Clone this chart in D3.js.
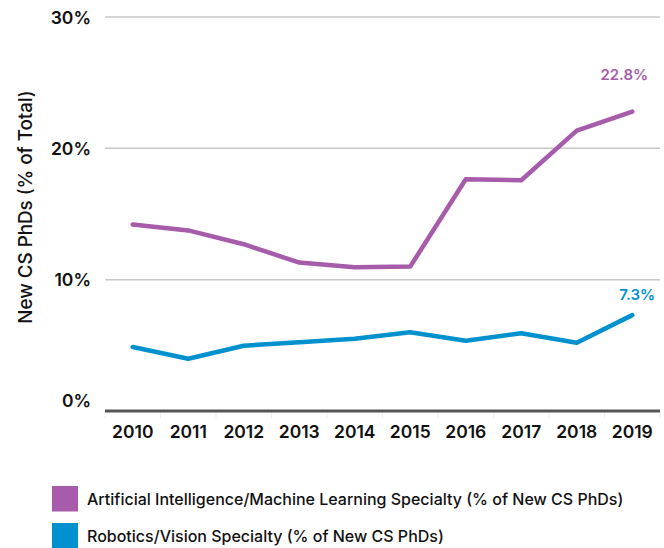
<!DOCTYPE html>
<html>
<head>
<meta charset="utf-8">
<script src="https://cdn.jsdelivr.net/npm/d3@7"></script>
<style>
  body { margin: 0; background: #fff; }
  svg text { font-family: "Inter", "Roboto", sans-serif; }
</style>
</head>
<body>
<script>
// chart data
const years = ["2010", "2011", "2012", "2013", "2014", "2015", "2016", "2017", "2018", "2019"];
const aiMl = [14.2, 13.75, 12.7, 11.3, 10.95, 11.0, 17.65, 17.57, 21.35, 22.8];
const roboticsVision = [4.87, 3.98, 4.97, 5.23, 5.5, 6.0, 5.35, 5.92, 5.2, 7.3];
const yTicks = [0, 10, 20, 30];
const seriesNames = [
  "Artificial Intelligence/Machine Learning Specialty (% of New CS PhDs)",
  "Robotics/Vision Specialty (% of New CS PhDs)"
];
const colors = ["#a65caa", "#0091ce"];

const width = 664, height = 548;
const plotLeft = 105, plotRight = 660, plotTop = 17, plotBottom = 411;

const svg = d3.select('body').append('svg')
  .attr('width', width)
  .attr('height', height);

const x = d3.scaleBand().domain(years).range([plotLeft, plotRight]);
const y = d3.scaleLinear().domain([0, 30]).range([plotBottom, plotTop]);

// gridlines
svg.append('g')
  .selectAll('line')
  .data(yTicks.filter(d => d > 0))
  .enter()
  .append('line')
  .attr('x1', plotLeft)
  .attr('x2', plotRight)
  .attr('y1', d => y(d))
  .attr('y2', d => y(d))
  .attr('stroke', '#c8c8c8')
  .attr('stroke-width', 1.5);

// y tick labels (the 0% one sits above the axis line)
svg.append('g')
  .selectAll('text')
  .data(yTicks)
  .enter()
  .append('text')
  .attr('x', 91)
  .attr('y', d => d === 0 ? y(d) - 4 : y(d) + 6.5)
  .attr('text-anchor', 'end')
  .attr('font-size', 17.5)
  .attr('font-weight', 600)
  .attr('fill', '#111')
  .text(d => d + '%');

// x axis
const xAxis = svg.append('g')
  .attr('transform', `translate(0,${plotBottom})`)
  .call(d3.axisBottom(x).tickSize(0).tickPadding(15));
xAxis.select('.domain').remove();
xAxis.selectAll('text')
  .attr('font-size', 17.5)
  .attr('font-weight', 600)
  .attr('fill', '#111')
  .style('font-family', '"Inter", "Roboto", sans-serif');

// faint band separators
svg.append('g')
  .selectAll('line')
  .data(years.concat(['end']))
  .enter()
  .append('line')
  .attr('x1', (d, i) => plotLeft + i * x.step())
  .attr('x2', (d, i) => plotLeft + i * x.step())
  .attr('y1', plotBottom)
  .attr('y2', plotBottom + 7)
  .attr('stroke', '#eee')
  .attr('stroke-width', 1);

svg.append('line')
  .attr('x1', plotLeft)
  .attr('x2', plotRight)
  .attr('y1', plotBottom)
  .attr('y2', plotBottom)
  .attr('stroke', '#555')
  .attr('stroke-width', 3);

// y axis title
svg.append('text')
  .attr('transform', `translate(32,207) rotate(-90)`)
  .attr('text-anchor', 'middle')
  .attr('font-size', 18.8)
  .attr('font-weight', 500)
  .attr('fill', '#111')
  .text('New CS PhDs (% of Total)');

// lines
const line = d3.line()
  .x((d, i) => x(years[i]) + x.bandwidth() / 2)
  .y(d => y(d));

[aiMl, roboticsVision].forEach((vals, k) => {
  svg.append('path')
    .datum(vals)
    .attr('d', line)
    .attr('fill', 'none')
    .attr('stroke', colors[k])
    .attr('stroke-width', 4.5)
    .attr('stroke-linejoin', 'round')
    .attr('stroke-linecap', 'round');
});

// end labels
const lastX = x(years[years.length - 1]) + x.bandwidth() / 2;
svg.append('text')
  .attr('x', lastX - 8)
  .attr('y', y(aiMl[aiMl.length - 1]) - 32)
  .attr('text-anchor', 'middle')
  .attr('font-size', 15)
  .attr('font-weight', 600)
  .attr('fill', colors[0])
  .text(aiMl[aiMl.length - 1].toFixed(1) + '%');
svg.append('text')
  .attr('x', lastX + 5)
  .attr('y', y(roboticsVision[roboticsVision.length - 1]) - 15)
  .attr('text-anchor', 'middle')
  .attr('font-size', 15)
  .attr('font-weight', 600)
  .attr('fill', colors[1])
  .text(roboticsVision[roboticsVision.length - 1].toFixed(1) + '%');

// legend
const legend = svg.append('g')
  .selectAll('g')
  .data(seriesNames)
  .enter()
  .append('g')
  .attr('transform', (d, i) => `translate(52,${486 + i * 37})`);
legend.append('rect')
  .attr('width', 26)
  .attr('height', 25.5)
  .attr('fill', (d, i) => colors[i]);
legend.append('text')
  .attr('x', 35)
  .attr('y', 18.5)
  .attr('font-size', 16)
  .attr('font-weight', 500)
  .attr('fill', '#111')
  .text(d => d);
</script>
</body>
</html>
